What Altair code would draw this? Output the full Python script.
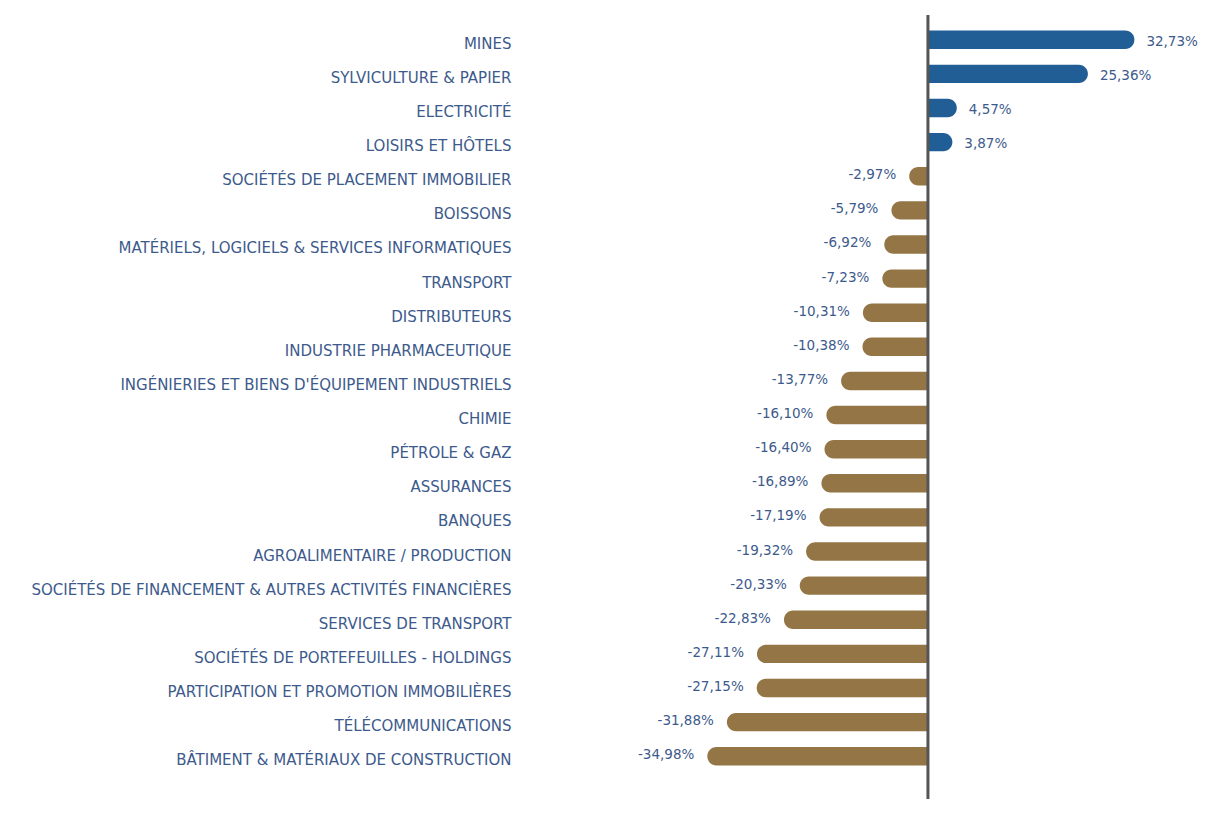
import altair as alt
import pandas as pd

categories = [
    "MINES",
    "SYLVICULTURE & PAPIER",
    "ELECTRICITÉ",
    "LOISIRS ET HÔTELS",
    "SOCIÉTÉS DE PLACEMENT IMMOBILIER",
    "BOISSONS",
    "MATÉRIELS, LOGICIELS & SERVICES INFORMATIQUES",
    "TRANSPORT",
    "DISTRIBUTEURS",
    "INDUSTRIE PHARMACEUTIQUE",
    "INGÉNIERIES ET BIENS D'ÉQUIPEMENT INDUSTRIELS",
    "CHIMIE",
    "PÉTROLE & GAZ",
    "ASSURANCES",
    "BANQUES",
    "AGROALIMENTAIRE / PRODUCTION",
    "SOCIÉTÉS DE FINANCEMENT & AUTRES ACTIVITÉS FINANCIÈRES",
    "SERVICES DE TRANSPORT",
    "SOCIÉTÉS DE PORTEFEUILLES - HOLDINGS",
    "PARTICIPATION ET PROMOTION IMMOBILIÈRES",
    "TÉLÉCOMMUNICATIONS",
    "BÂTIMENT & MATÉRIAUX DE CONSTRUCTION",
]
values = [
    32.73, 25.36, 4.57, 3.87, -2.97, -5.79, -6.92, -7.23, -10.31, -10.38,
    -13.77, -16.10, -16.40, -16.89, -17.19, -19.32, -20.33, -22.83, -27.11,
    -27.15, -31.88, -34.98,
]

df = pd.DataFrame({"secteur": categories, "variation": values})

W, H = 637, 766
TEXT = "#3d5a8c"
BLUE = "#225e96"
GOLD = "#947646"
FONT = "DejaVu Sans"

y_enc = alt.Y(
    "secteur:N",
    sort=categories,
    title=None,
    scale=alt.Scale(paddingInner=0.46, paddingOuter=0.456, round=False),
    axis=alt.Axis(
        ticks=False, domain=False, grid=False, labelPadding=7, labelOffset=4,
        labelFont=FONT, labelFontSize=15, labelColor=TEXT, labelLimit=700,
    ),
)
xs = alt.Scale(domain=[-65, 36], nice=False, zero=False)

base = alt.Chart()

pos_bars = base.mark_bar(
    color=BLUE, cornerRadiusTopRight=9, cornerRadiusBottomRight=9
).encode(y=y_enc, x=alt.X("pos:Q", scale=xs, axis=None), x2="zero:Q")

neg_bars = base.mark_bar(
    color=GOLD, cornerRadiusTopLeft=9, cornerRadiusBottomLeft=9
).encode(y=y_enc, x=alt.X("neg:Q", scale=xs, axis=None), x2="zero:Q")

pos_text = base.mark_text(
    align="left", baseline="middle", dx=12, dy=2, font=FONT, fontSize=13.5, color=TEXT
).encode(y=y_enc, x=alt.X("pos:Q", scale=xs, axis=None), text="lblpos:N")

neg_text = base.mark_text(
    align="right", baseline="middle", dx=-13, dy=-1, font=FONT, fontSize=13.5, color=TEXT
).encode(y=y_enc, x=alt.X("neg:Q", scale=xs, axis=None), text="lblneg:N")

rule = base.mark_rule(color="#555555", strokeWidth=3).encode(
    x=alt.X("min(zero):Q", scale=xs, axis=None),
    y=alt.value(0),
    y2=alt.value(H + 40),
)

chart = alt.layer(
    pos_bars, neg_bars, rule, pos_text, neg_text, data=df
).transform_calculate(
    lbl="(datum.variation < 0 ? '-' : '') + replace(format(abs(datum.variation), '.2f'), '.', ',') + '%'",
    zero="0",
    pos="max(datum.variation, 0)",
    neg="min(datum.variation, 0)",
).transform_calculate(
    lblpos="datum.variation > 0 ? datum.lbl : ''",
    lblneg="datum.variation < 0 ? datum.lbl : ''",
).properties(
    width=W,
    height=H,
    autosize=alt.AutoSizeParams(type="none"),
    padding={"left": 510, "top": 7, "right": 43, "bottom": 18},
).configure_view(stroke=None)

chart.save("out.html", embed_options={"renderer": "svg", "actions": False})
